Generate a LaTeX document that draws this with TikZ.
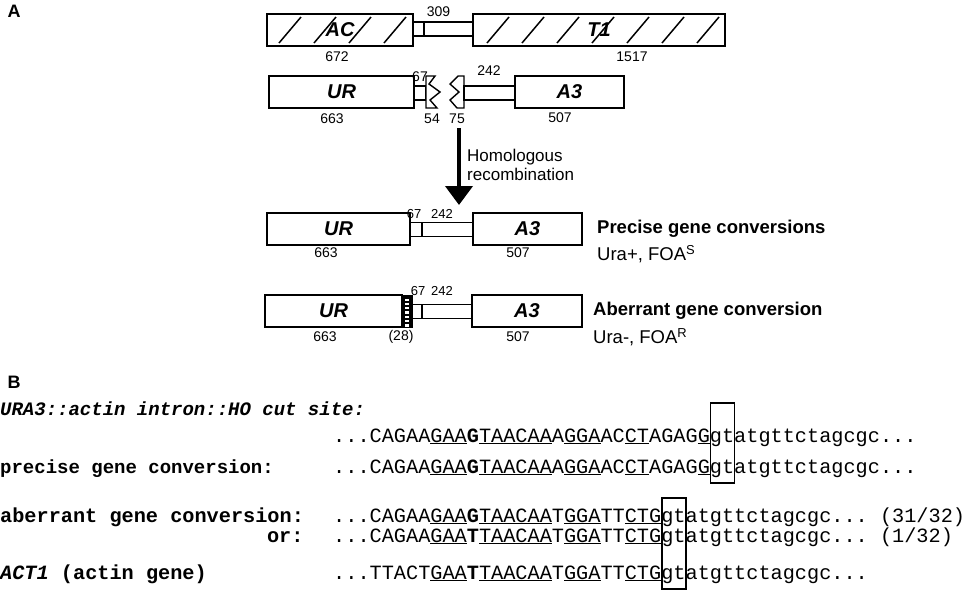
\documentclass[tikz,border=0pt]{standalone}
\usepackage{fontspec}
\setmainfont{Liberation Sans}
\setmonofont{Liberation Mono}
\usetikzlibrary{arrows.meta, positioning}
\newcommand{\un}[1]{\underline{#1}}
\newcommand{\bseq}[1]{\textbf{#1}}
\newcommand{\cw}{12.15}

\begin{document}
\begin{tikzpicture}[x=1pt, y=-1pt,
    gene/.style={draw, line width=1.6pt, minimum height=32pt, inner sep=0pt,
        font=\fontsize{20}{20}\selectfont\bfseries\itshape},
    seg/.style={draw, line width=1.4pt, fill=white, minimum height=14pt, inner sep=0pt},
    num/.style={inner sep=0pt, font=\fontsize{14}{14}\selectfont},
    small/.style={inner sep=0pt, font=\fontsize{13}{13}\selectfont},
    note/.style={inner sep=0pt, anchor=west, font=\fontsize{18.5}{20}\selectfont},
    panel/.style={inner sep=0pt, font=\fontsize{18}{18}\selectfont\bfseries},
    hatch/.style={line width=1.5pt},
    zig/.style={line width=1.4pt, fill=white, line join=miter},
    seqlbl/.style={inner sep=0pt, anchor=base west,
        font=\fontsize{20.25}{22}\selectfont\ttfamily\bfseries},
    seq/.style={inner sep=0pt, anchor=base west, font=\fontsize{20.25}{22}\selectfont\ttfamily},
    cut/.style={draw, line width=1.3pt, minimum width=24pt, inner sep=0pt},
    arr/.style={-{Triangle[length=19pt, width=27pt]}, line width=4pt},
    node distance=4pt
]
\useasboundingbox (0,0) rectangle (964,590);

\node[panel] (pA) at (14,11) {A};
\node[panel] (pB) at (14,382) {B};

\node[gene, minimum width=146pt] (ac) at (340,30) {};
\begin{scope}
\clip (ac.south west) rectangle (ac.north east);
\foreach \hx in {279,314,349,384}
    \draw[hatch] (\hx,43) -- ++(22,-26);
\end{scope}
\node[gene, minimum width=146pt] at (ac) {AC};
\node[seg, minimum width=11pt] (ac67) at (418.5,29) {};
\node[seg, minimum width=49pt] (ac309) at (448.5,29) {};
\node[gene, minimum width=252pt] (t1) at (599,30) {};
\begin{scope}
\clip (t1.south west) rectangle (t1.north east);
\foreach \hx in {487,522,557,592,627,662,697}
    \draw[hatch] (\hx,43) -- ++(22,-26);
\end{scope}
\node[gene, minimum width=252pt] at (t1) {T1};
\node[num] (n309) at (438.5,12) {309};
\node[num] (n672) at (337,57) {672};
\node[num] (n1517) at (632,57) {1517};

\node[gene, minimum width=145pt] (ur1) at (341.5,92) {UR};
\node[seg, minimum width=12pt] (ur1s) at (420,93) {};
\draw[zig] (426,76) -- (435,76) -- (429,84) -- (440,92) -- (430,100) -- (437,108) -- (426,108) -- cycle;
\draw[zig] (464,76) -- (458,76) -- (450,84) -- (459,92) -- (450,100) -- (457,108) -- (464,108) -- cycle;
\node[seg, minimum width=51pt] (ur1l) at (489.5,93) {};
\node[gene, minimum width=109pt] (a31) at (569.5,92) {A3};
\node[num] (n67a) at (420,77) {67};
\node[num] (n242a) at (489,71) {242};
\node[num] (n663a) at (332,119) {663};
\node[num] (n54) at (432,119) {54};
\node[num] (n75) at (457,119) {75};
\node[num] (n507a) at (560,118) {507};

\coordinate (hrTop) at (459,128);
\coordinate (hrEnd) at (459,205);
\draw[arr] (hrTop) -- (hrEnd);
\node[anchor=west, inner sep=0pt, align=left, font=\fontsize{17}{19}\selectfont] (hr)
    at (467,164.5) {Homologous\\recombination};

\node[gene, minimum width=143pt] (ur2) at (338.5,229) {UR};
\node[seg, minimum width=12pt] (ur2s) at (416,229.5) {};
\node[seg, minimum width=51pt] (ur2l) at (447.5,229.5) {};
\node[gene, minimum width=109pt] (a32) at (527.5,229) {A3};
\node[small] (n67b) at (414,214) {67};
\node[small] (n242b) at (442,214) {242};
\node[num] (n663b) at (326,253) {663};
\node[num] (n507b) at (518,253) {507};
\node[note, font=\fontsize{18.5}{20}\selectfont\bfseries] (prec) at (597,229) {Precise gene conversions};
\node[note] (ura1) at (597,254) {Ura+, FOA\textsuperscript{S}};

\node[gene, minimum width=137pt] (ur3) at (333.5,311) {UR};
\node[draw, fill=black, line width=1pt, minimum width=10pt, minimum height=32pt, inner sep=0pt]
    (strip) at (407,311) {};
\foreach \k in {0,...,6}
    \fill[white] (405,{298.5+4.3*\k}) rectangle ++(4,2.2);
\node[seg, minimum width=10pt] (ur3s) at (417,311.5) {};
\node[seg, minimum width=50pt] (ur3l) at (447,311.5) {};
\node[gene, minimum width=110pt] (a33) at (527,311) {A3};
\node[small] (n67c) at (418,291) {67};
\node[small] (n242c) at (442,291) {242};
\node[num] (n663c) at (325,337) {663};
\node[num] (n28) at (401,337) {(28)};
\node[num] (n507c) at (518,337) {507};
\node[note, font=\fontsize{18.5}{20}\selectfont\bfseries] (aber) at (593,311) {Aberrant gene conversion};
\node[note] (ura2) at (593,337) {Ura-, FOA\textsuperscript{R}};

\node[seqlbl, font=\fontsize{19}{22}\selectfont\ttfamily\bfseries] (lblCut) at (0,415)
    {\itshape URA3::actin intron::HO cut site:};
\node[seq] (seqCut) at (333,442)
    {...CAGAA\un{GAA}\bseq{G}\un{TAACAA}A\un{GGA}AC\un{CT}AGAG\un{G}gtatgttctagcgc...};
\node[seqlbl, font=\fontsize{19}{22}\selectfont\ttfamily\bfseries] (lblPre) at (0,473)
    {precise gene conversion:};
\node[seq] (seqPre) at (333,473)
    {...CAGAA\un{GAA}\bseq{G}\un{TAACAA}A\un{GGA}AC\un{CT}AGAG\un{G}gtatgttctagcgc...};
\node[seqlbl] (lblAbe) at (0,522) {aberrant gene conversion:};
\node[seq] (seqAbe) at (333,522)
    {...CAGAA\un{GAA}\bseq{G}\un{TAACAA}T\un{GGA}TT\un{CTG}gtatgttctagcgc... (31/32)};
\node[seqlbl, anchor=base east] (lblOr) at ({25*\cw},542) {or:};
\node[seq] (seqOr) at (333,542)
    {...CAGAA\un{GAA}\bseq{T}\un{TAACAA}T\un{GGA}TT\un{CTG}gtatgttctagcgc... (1/32)};
\node[seqlbl] (lblAct) at (0,579) {{\itshape ACT1} (actin gene)};
\node[seq] (seqAct) at (333,579)
    {...TTACT\un{GAA}\bseq{T}\un{TAACAA}T\un{GGA}TT\un{CTG}gtatgttctagcgc...};

\node[cut, minimum height=80pt] (cutA) at ({333+31*\cw+13},443) {};
\node[cut, minimum height=91pt] (cutB) at ({333+27*\cw+13},543.5) {};
\end{tikzpicture}
\end{document}
